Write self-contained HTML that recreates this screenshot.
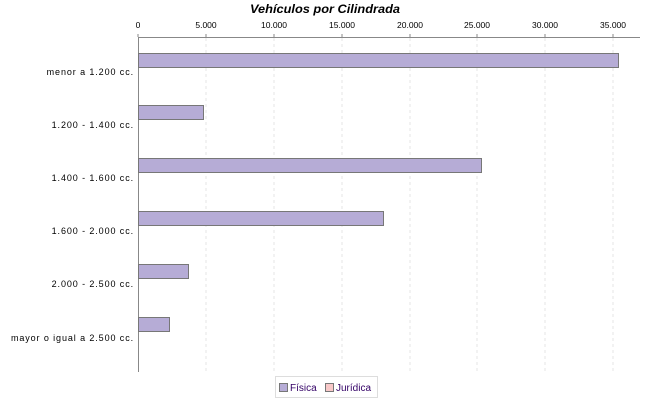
<!DOCTYPE html><html><head><style>body{margin:0;background:#fff}</style></head><body>
<svg width="650" height="400" xmlns="http://www.w3.org/2000/svg" font-family="Liberation Sans, DejaVu Sans, sans-serif">
<text x="325" y="13" text-anchor="middle" font-size="12" font-weight="bold" font-style="italic" textLength="150" lengthAdjust="spacingAndGlyphs">Vehículos por Cilindrada</text>
<g stroke="#e4e4e4" stroke-dasharray="3,3">
<line x1="206" y1="38" x2="206" y2="372"/><line x1="274" y1="38" x2="274" y2="372"/><line x1="342" y1="38" x2="342" y2="372"/><line x1="410" y1="38" x2="410" y2="372"/><line x1="477" y1="38" x2="477" y2="372"/><line x1="545" y1="38" x2="545" y2="372"/><line x1="613" y1="38" x2="613" y2="372"/></g>
<g font-size="8.5" text-anchor="middle" fill="#000">
<text x="138" y="28">0</text><text x="206" y="28">5.000</text><text x="274" y="28">10.000</text><text x="342" y="28">15.000</text><text x="410" y="28">20.000</text><text x="477" y="28">25.000</text><text x="545" y="28">30.000</text><text x="613" y="28">35.000</text></g>
<g stroke="#888"><line x1="138" y1="37.5" x2="640" y2="37.5"/><line x1="138.5" y1="37" x2="138.5" y2="372"/>
<line x1="138" y1="34" x2="138" y2="37"/><line x1="206" y1="34" x2="206" y2="37"/><line x1="274" y1="34" x2="274" y2="37"/><line x1="342" y1="34" x2="342" y2="37"/><line x1="410" y1="34" x2="410" y2="37"/><line x1="477" y1="34" x2="477" y2="37"/><line x1="545" y1="34" x2="545" y2="37"/><line x1="613" y1="34" x2="613" y2="37"/></g>
<g fill="#b6acd6" stroke="#777">
<rect x="138.5" y="53.5" width="480" height="14"/>
<rect x="138.5" y="105.5" width="65" height="14"/>
<rect x="138.5" y="158.5" width="343" height="14"/>
<rect x="138.5" y="211.5" width="245" height="14"/>
<rect x="138.5" y="264.5" width="50" height="14"/>
<rect x="138.5" y="317.5" width="31" height="14"/></g>
<g font-size="9" text-anchor="end" fill="#000" letter-spacing="0.9">
<text x="134" y="75">menor a 1.200 cc.</text>
<text x="134" y="128">1.200 - 1.400 cc.</text>
<text x="134" y="181">1.400 - 1.600 cc.</text>
<text x="134" y="234">1.600 - 2.000 cc.</text>
<text x="134" y="287">2.000 - 2.500 cc.</text>
<text x="134" y="341">mayor o igual a 2.500 cc.</text></g>
<rect x="275.5" y="376.5" width="102" height="21" fill="#fff" stroke="#ddd"/>
<rect x="279.5" y="383.5" width="8" height="8" fill="#b6acd6" stroke="#777"/>
<text x="290" y="391" font-size="10" fill="#330066">Física</text>
<rect x="325.5" y="383.5" width="8" height="8" fill="#f8c8c8" stroke="#777"/>
<text x="336" y="391" font-size="10" fill="#330066">Jurídica</text>
</svg></body></html>
